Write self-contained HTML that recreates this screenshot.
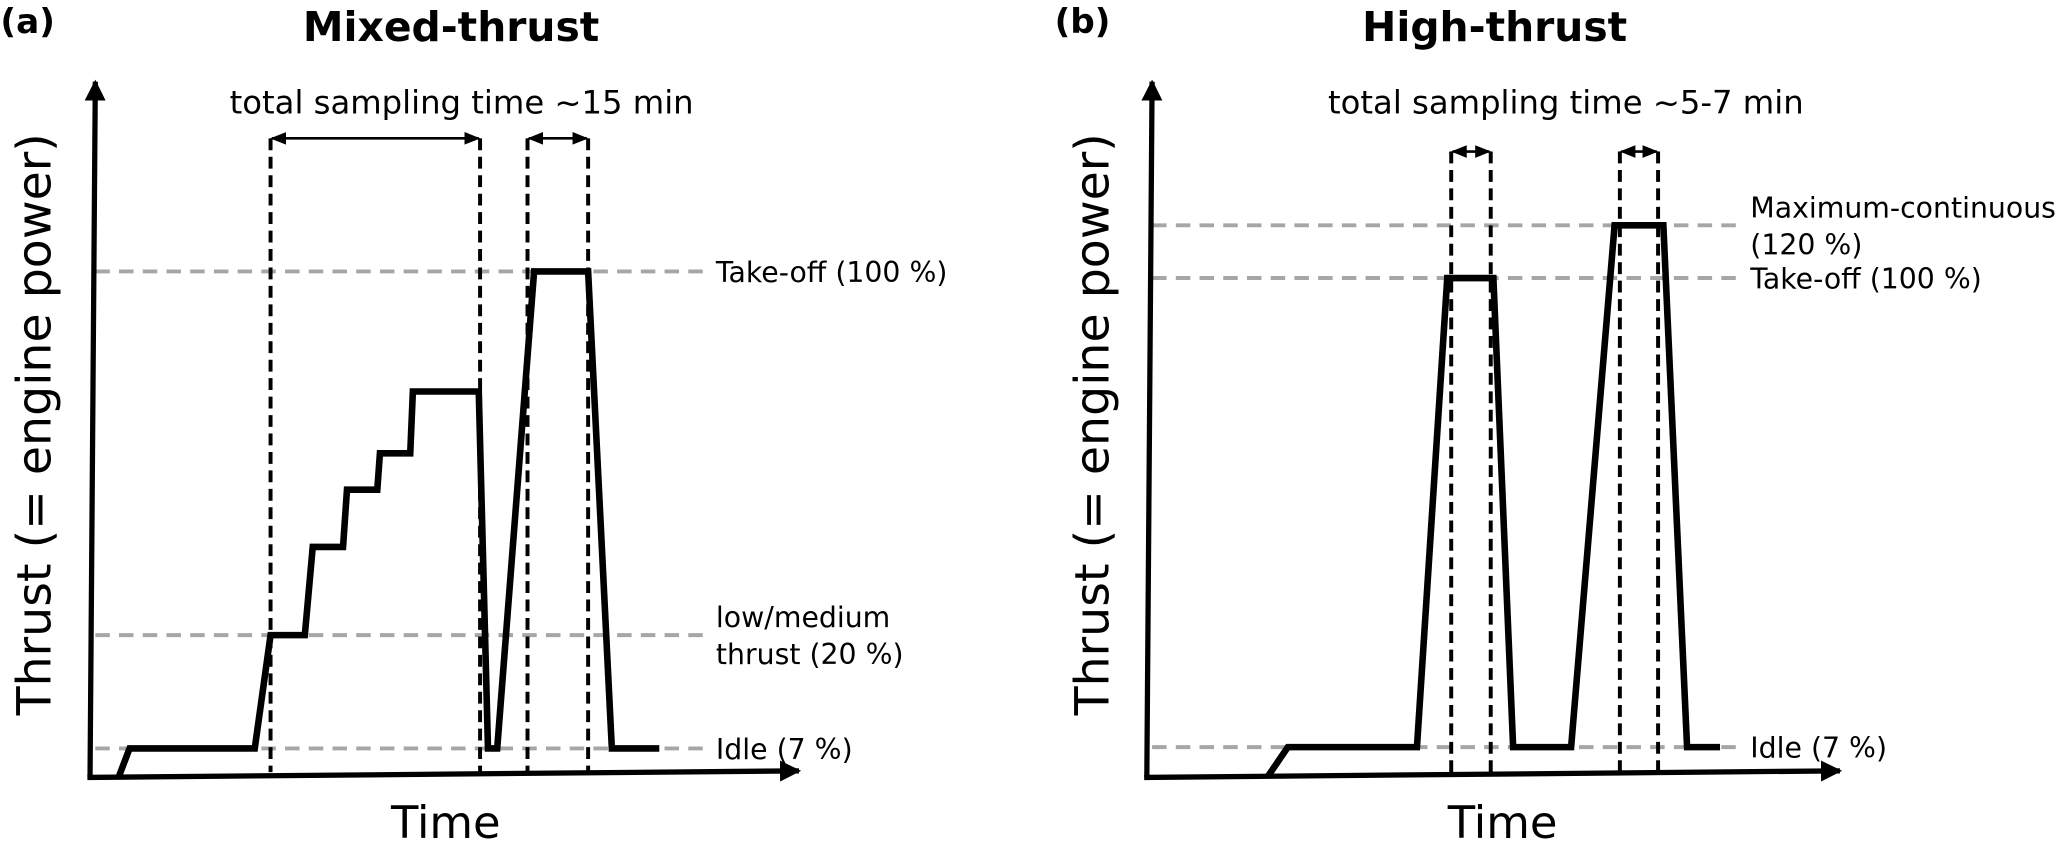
<!DOCTYPE html>
<html><head><meta charset="utf-8"><style>
html,body{margin:0;padding:0;background:#fff;}
svg{display:block;}
text{font-family:"DejaVu Sans","Liberation Sans",sans-serif;fill:#000;}
</style></head><body>
<svg id="fig" width="2067" height="842" viewBox="0 0 1568 639" xmlns="http://www.w3.org/2000/svg">
<defs>
<marker id="ah" viewBox="0 0 10 10" refX="9" refY="5" markerWidth="4" markerHeight="4" orient="auto-start-reverse"><path d="M0,0 L10,5 L0,10 z" fill="#000"/></marker>
<marker id="sa" viewBox="0 0 10 10" refX="9" refY="5" markerWidth="6" markerHeight="6" orient="auto-start-reverse"><path d="M0,1 L10,5 L0,9 z" fill="#000"/></marker>
</defs>
</svg>
<script>
// Panel (a) Mixed-thrust data
const timesA = [4.4, 6, 25, 27.4, 32.6, 33.8, 38.4, 39, 43.6, 44, 48.6, 49, 59, 60.4, 61.8, 67.4, 75.6, 79.2, 86.4];
const thrustA = [0, 7, 7, 20, 20, 39.4, 39.4, 52, 52, 60, 60, 73.6, 73.6, 7, 7, 100, 100, 7, 7];
const windowsA = [[27.4, 59.2], [66.4, 75.6]];
const levelsA = [7, 20, 100];
const levelLabelsA = ["Idle (7 %)", "low/medium|thrust (20 %)", "Take-off (100 %)"];
// Panel (b) High-thrust data
const timesB = [18.4, 21.4, 41, 45.6, 52.6, 55.6, 64.4, 71, 78.4, 82, 87];
const thrustB = [0, 7, 7, 100, 100, 7, 7, 120, 120, 7, 7];
const windowsB = [[46.2, 52.2], [71.8, 77.6]];
const levelsB = [7, 100, 120];
const levelLabelsB = ["Idle (7 %)", "Take-off (100 %)", "Maximum-continuous|(120 %)"];

const NS = "http://www.w3.org/2000/svg";
const svg = document.getElementById("fig");
function mk(tag, attrs, parent) {
  const e = document.createElementNS(NS, tag);
  for (const k in attrs) e.setAttribute(k, attrs[k]);
  (parent || svg).appendChild(e);
  return e;
}
function piece(domain, range) {
  return v => {
    for (let i = 0; i < domain.length - 1; i++) {
      if (v <= domain[i + 1] || i === domain.length - 2) {
        const f = (v - domain[i]) / (domain[i + 1] - domain[i]);
        return range[i] + f * (range[i + 1] - range[i]);
      }
    }
  };
}
const panels = [
  {id: "a", x0: 68, xEnd: 610, yTop: 58, times: timesA, thrust: thrustA, windows: windowsA, levels: levelsA, labels: levelLabelsA,
   y: piece([0, 7, 20, 100], [589, 568, 482, 206]), winTop: 105, glEnd: 535, labelX: 543,
   title: "Mixed-thrust", titleX: 342, tag: "(a)", tagX: 0, sampText: "total sampling time ~15 min", sampX: 350, ylabX: 38, timeX: 338},
  {id: "b", x0: 870, xEnd: 1400, yTop: 58, times: timesB, thrust: thrustB, windows: windowsB, levels: levelsB, labels: levelLabelsB,
   y: piece([0, 7, 100, 120], [589, 567, 211, 171]), winTop: 115, glEnd: 1322, labelX: 1328,
   title: "High-thrust", titleX: 1134, tag: "(b)", tagX: 800, sampText: "total sampling time ~5-7 min", sampX: 1188, ylabX: 841, timeX: 1140}
];
panels.forEach(p => {
  const g = mk("g", {});
  
  
  const X = t => p.x0 + t * 5;
  p.levels.forEach((lv, i) => {
    const yy = p.y(lv);
    const l = mk("line", {x1: p.x0 + 4, x2: p.glEnd, y1: yy, y2: yy, stroke: "#a6a6a6", "stroke-width": 3, "stroke-dasharray": "11,7"}, g);
    
    
    const parts = p.labels[i].split("|");
    const t = mk("text", {x: p.labelX, "font-size": 21.5}, g);
    
    
    parts.forEach((s, k) => {
      const off = parts.length === 1 ? 8 : (k === 0 ? -6 : 22);
      const ts = mk("tspan", {x: p.labelX, y: yy + off}, t);
      ts.textContent = s;
    });
  });
  p.windows.forEach((w, i) => {
    w.forEach((tv, j) => {
      const v = mk("line", {x1: X(tv), x2: X(tv), y1: p.winTop, y2: 586, stroke: "#000", "stroke-width": 3, "stroke-dasharray": "9,5"}, g);
      
      
    });
    const a = mk("line", {x1: X(w[0]) + 1, x2: X(w[1]) - 1, y1: p.winTop, y2: p.winTop, stroke: "#000", "stroke-width": 2, "marker-start": "url(#sa)", "marker-end": "url(#sa)"}, g);
    
    
  });
  const ya = mk("line", {x1: p.x0, y1: 590, x2: p.x0 + 4, y2: p.yTop + 4, stroke: "#000", "stroke-width": 4, "marker-end": "url(#ah)"}, g);
  
  
  const xa = mk("line", {x1: p.x0 - 2, y1: 590, x2: p.xEnd - 4, y2: 585, stroke: "#000", "stroke-width": 4, "marker-end": "url(#ah)"}, g);
  
  
  const pts = p.times.map((t, i) => X(t).toFixed(1) + "," + p.y(p.thrust[i]).toFixed(1)).join(" ");
  const pl = mk("polyline", {points: pts, fill: "none", stroke: "#000", "stroke-width": 5, "stroke-linejoin": "miter"}, g);
  
  
  const tt = mk("text", {x: p.titleX, y: 31, "font-size": 31, "font-weight": "bold", "text-anchor": "middle"}, g);
  tt.textContent = p.title;
  
  
  const tg = mk("text", {x: p.tagX, y: 25, "font-size": 26, "font-weight": "bold"}, g);
  tg.textContent = p.tag;
  
  
  const st = mk("text", {x: p.sampX, y: 86, "font-size": 24.5, "text-anchor": "middle"}, g);
  st.textContent = p.sampText;
  
  
  const yl = mk("text", {x: 0, y: 0, "font-size": 36, "text-anchor": "middle", transform: "translate(" + p.ylabX + ",322) rotate(-90)"}, g);
  yl.textContent = "Thrust (= engine power)";
  
  
  const xl = mk("text", {x: p.timeX, y: 636, "font-size": 34, "text-anchor": "middle"}, g);
  xl.textContent = "Time";
  
  
});
</script>
</body></html>
